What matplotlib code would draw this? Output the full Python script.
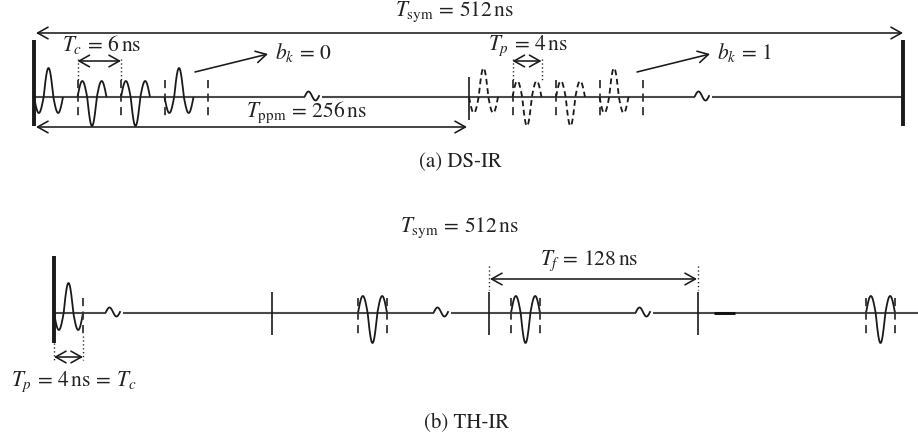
import numpy as np
import matplotlib
matplotlib.use("Agg")
import matplotlib.pyplot as plt

plt.rcParams['mathtext.fontset'] = 'stix'
plt.rcParams['font.family'] = 'STIXGeneral'

# ---- signal parameters -------------------------------------------------
chip_polarity = [1, -1, -1, 1]        # DS spreading code, one pulse per chip
frame_polarity = [1, -1, -1, -1]      # TH-IR pulse sign in each frame
Tc_ns = 6
Tp_ns = 4
Tppm_ns = 256
Tsym_ns = 512
Tf_ns = 128

label_tsym = r"$T_{\mathrm{sym}}\, =\, %d\,\mathrm{ns}$" % Tsym_ns
label_tc = r"$T_c\, =\, %d\,\mathrm{ns}$" % Tc_ns
label_tp = r"$T_p\, =\, %d\,\mathrm{ns}$" % Tp_ns
label_tppm = r"$T_{\mathrm{ppm}}\, =\, %d\,\mathrm{ns}$" % Tppm_ns
label_tf = r"$T_f\, =\, %d\,\mathrm{ns}$" % Tf_ns
label_tp_th = r"$T_p\, =\, %d\,\mathrm{ns}\, =\, T_c$" % Tp_ns
bits = [0, 1]
captions = ["(a) DS-IR", "(b) TH-IR"]

# ---- drawing layout ----------------------------------------------------
PX_PER_NS = 7.25
INK = "#1a1a1a"
AXIS = "#4a4a4a"

fig = plt.figure(figsize=(9.18, 4.4), dpi=100)
ax = fig.add_axes([0, 0, 1, 1])
ax.set_xlim(0, 918)
ax.set_ylim(440, 0)
ax.axis("off")


def pulse(x_start, width, base, pol, up=29, down=16, **kw):
    u = np.linspace(-1, 1, 300)
    c = np.cos(1.5 * np.pi * u)
    off = np.where(c > 0, c * up, c * down)
    ax.plot(x_start + (u + 1) / 2 * width, base - pol * off,
            color=INK, lw=1.3, solid_capstyle="butt", **kw)


def baseline(x0, x1, y, breaks):
    edges = [x0]
    for b in breaks:
        edges += [b - 8, b + 9]
    edges.append(x1)
    for a, b in zip(edges[0::2], edges[1::2]):
        ax.plot([a, b], [y, y], color=AXIS, lw=1.5, solid_capstyle="butt")
    for b in breaks:
        t = np.linspace(0, 1, 60)
        ax.plot(b - 8 + 14 * t, y - 4.5 * np.sin(2 * np.pi * t) - 1.0,
                color=INK, lw=1.3)


def arrow(x0, y0, x1, y1, style="<->"):
    ax.annotate("", xy=(x1, y1), xytext=(x0, y0),
                arrowprops=dict(arrowstyle=style + ",head_length=0.75,head_width=0.42",
                                color=INK, lw=1.15, shrinkA=0, shrinkB=0))


def vline(x, y0, y1, kind="solid", lw=1.2):
    if kind == "dashed":
        ax.plot([x, x], [y0, y1], color="#333333", lw=1.3, dashes=(4.5, 3.0))
    elif kind == "dotted":
        ax.plot([x, x], [y0, y1], color=INK, lw=1.0, dashes=(0.9, 1.9))
    else:
        ax.plot([x, x], [y0, y1], color=INK, lw=lw, solid_capstyle="butt")


def text(x, y, s, size=15.5):
    ax.text(x, y, s, ha="center", va="center", fontsize=size, color="#222222")


# ---- (a) DS-IR ---------------------------------------------------------
ya = 97
xa0 = 34
half_shift = 435                   # start of the bit-1 PPM slot (axis is broken)
tc_px = Tc_ns * PX_PER_NS
tp_px = Tp_ns * PX_PER_NS

baseline(xa0, 903, ya, [313, 703])
vline(xa0, 40, 126, lw=2.8)
vline(903, 40, 126, lw=2.8)
vline(xa0 + half_shift, 77, 120)

for k, bit in enumerate(bits):
    x_slot = xa0 + k * half_shift
    style = {} if bit == 0 else {"dashes": (3.2, 2.0)}
    for i, pol in enumerate(chip_polarity):
        pulse(x_slot + i * tc_px, tp_px, ya, pol, **style)
        vline(x_slot + (i + 1) * tc_px, 80, 118, "dashed")

# chip / pulse width markers
for x in (xa0 + tc_px, xa0 + 2 * tc_px):
    vline(x, 59, 80, "dotted")
arrow(xa0 + tc_px, 61, xa0 + 2 * tc_px, 61)
text(102, 44, label_tc)

x_tp = xa0 + half_shift + tc_px
for x in (x_tp, x_tp + tp_px):
    vline(x, 59, 80, "dotted")
arrow(x_tp, 61, x_tp + tp_px, 61)
text(528, 46, label_tp)

# symbol duration and PPM shift
arrow(36, 33, 903, 33)
text(455, 12, label_tsym)
arrow(36, 127, xa0 + half_shift - 2, 127)
text(306, 112, label_tppm)

# bit pointers
for k, bit in enumerate(bits):
    x0 = 195 + k * 442
    arrow(x0, 72, x0 + 73, 54, style="->")
    text(x0 + 108, 52, r"$b_k\, =\, %d$" % bit)

text(460, 162, captions[0], size=15)

# ---- (b) TH-IR ---------------------------------------------------------
yb = 313
frame_starts = [54, 272, 489, 698]
pulse_starts = [54, 358, 511, 866]

baseline(54, 918, yb, [114, 442, 644])
ax.plot([714, 735], [yb, yb], color="#111111", lw=2.1, solid_capstyle="butt")
vline(54, 256, 343, lw=2.8)
for x in frame_starts[1:]:
    vline(x, 292, 335)

for x, pol in zip(pulse_starts, frame_polarity):
    pulse(x, tp_px, yb, pol, up=30, down=17)
    if x != 54:
        vline(x, 298, 338, "dashed")
    vline(x + tp_px, 298, 336, "dashed")

# pulse width marker
vline(54, 343, 360, "dotted")
vline(54 + tp_px, 336, 360, "dotted")
arrow(54, 357, 54 + tp_px, 357)
text(74, 382, label_tp_th)

# frame duration
vline(frame_starts[2], 266, 290, "dotted")
vline(frame_starts[3], 266, 290, "dotted")
arrow(frame_starts[2] + 1, 279, frame_starts[3] - 1, 279)
text(589, 261, label_tf)

# symbol duration
arrow(54, 249, 920, 249)
text(460, 228, label_tsym)

text(467, 423, captions[1], size=15)

fig.savefig("out.png", dpi=100)
